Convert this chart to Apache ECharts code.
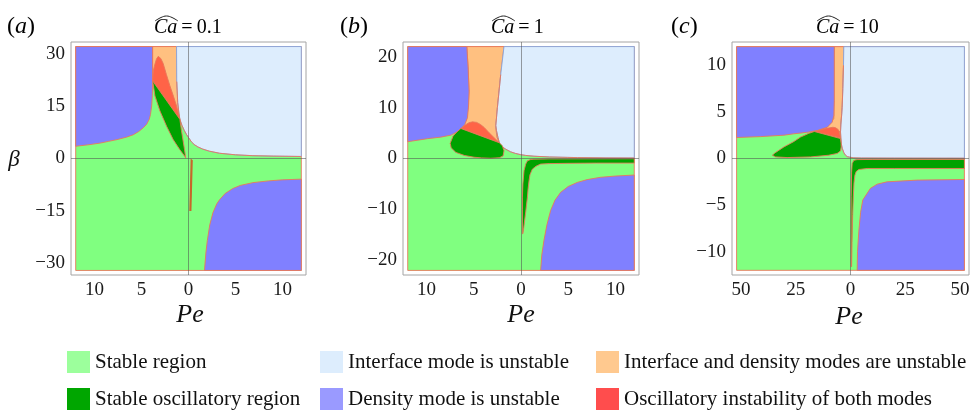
<!DOCTYPE html>
<html>
<head>
<meta charset="utf-8">
<script src="https://cdn.jsdelivr.net/npm/echarts@6/dist/echarts.min.js"></script>
<style>
  html, body { margin: 0; padding: 0; background: #fff; }
  #chart { width: 974px; height: 414px; }
</style>
</head>
<body>
<div id="chart"></div>
<script>
// Stability diagrams in the (Pe, beta) plane for three capillary numbers.
const SERIF = '"Liberation Serif", "Times New Roman", serif';

// ---------- axis ticks ----------
const ticksPeAB = [-10, -5, 0, 5, 10];
const ticksPeC = [-50, -25, 0, 25, 50];
const ticksBetaA = [-30, -15, 0, 15, 30];
const ticksBetaB = [-20, -10, 0, 10, 20];
const ticksBetaC = [-10, -5, 0, 5, 10];

// ---------- plotted domains ----------
const domainPeA = [-12, 12];
const domainBetaA = [-32, 32];
const domainPeB = [-12, 12];
const domainBetaB = [-22, 22];
const domainPeC = [-52, 52];
const domainBetaC = [-12, 12];

// ---------- region boundaries, panel (a): Ca = 0.1 ----------
const aBoth = [[-3.82, 32], [-1.27, 32], [-1.25, 24], [-1.15, 18], [-1.02, 14], [-0.92, 11.2], [-3.82, 22.2]];
const aDensityUpper = [[-12, 32], [-3.82, 32], [-3.82, 22], [-3.85, 18], [-3.92, 15], [-4.05, 12.5], [-4.18, 11.2],
  [-4.45, 9.8], [-4.8, 8.8], [-5.3, 7.7], [-5.87, 6.8], [-6.6, 6.1], [-7.6, 5.4], [-8.5, 4.9], [-9.4, 4.4],
  [-10.7, 3.9], [-12, 3.5]];
const aDensityLower = [[1.7, -32], [1.85, -27], [2.0, -23.5], [2.26, -19], [2.6, -15.5], [3.0, -13], [3.3, -11.8],
  [3.9, -10], [4.7, -8.6], [5.5, -7.7], [6.85, -6.9], [8.5, -6.4], [10, -6.1], [12, -5.9], [12, -32]];
const aInterface = [[-1.27, 32], [12, 32], [12, 0.58], [9, 0.68], [6.85, 0.8], [5, 1.05], [3.3, 1.5], [2.2, 2.1],
  [1.5, 2.7], [1, 3.3], [0.6, 4], [0.3, 4.8], [0, 6], [-0.2, 6.8], [-0.45, 8], [-0.7, 9.5], [-0.92, 11.2],
  [-1.02, 13], [-1.15, 16], [-1.25, 22]];
const aOscUnstable = [[-3.82, 22.2], [-3.75, 25], [-3.57, 27], [-3.4, 28.5], [-3.22, 29.2], [-2.95, 28.6],
  [-2.7, 27.2], [-2.35, 24], [-1.98, 20.8], [-1.6, 17.8], [-1.27, 15], [-0.92, 11.2]];
const aOscStable = [[-3.82, 22.2], [-0.92, 11.2], [-0.75, 8], [-0.57, 5], [-0.42, 2.5], [-0.29, 0.1], [-0.39, 0.6],
  [-0.92, 2.5], [-1.63, 5.4], [-2.33, 9.2], [-3.04, 13.6], [-3.57, 17.9]];
const aOscSliver = [[0.3, -0.4], [0.38, -0.6], [0.24, -14.8], [0.16, -14.8]];

// ---------- region boundaries, panel (b): Ca = 1 ----------
const bBoth = [[-5.74, 22], [-1.8, 22], [-2.15, 16.5], [-2.5, 10], [-2.67, 6.1], [-2.55, 4.2], [-2.3, 3.1],
  [-6.37, 5.9], [-5.8, 7.5], [-5.6, 10], [-5.5, 13.2], [-5.6, 17.8]];
const bDensityUpper = [[-12, 22], [-5.74, 22], [-5.6, 17.8], [-5.5, 13.2], [-5.55, 10.5], [-5.67, 8.0],
  [-5.95, 6.7], [-6.37, 5.8], [-6.8, 5.2], [-7.4, 4.6], [-8.5, 4.2], [-9.9, 3.9], [-12, 3.3]];
const bDensityLower = [[2.08, -22], [2.2, -19], [2.43, -16.1], [2.75, -13], [3.14, -10.2], [3.6, -8.2],
  [4.2, -6.65], [5, -5.5], [5.96, -4.7], [7, -4.15], [8.4, -3.7], [10, -3.45], [12, -3.25], [12, -22]];
const bInterface = [[-1.8, 22], [12, 22], [12, 0.1], [9, 0.12], [6, 0.18], [4.9, 0.22], [3, 0.3], [1.37, 0.45],
  [0.5, 0.6], [-0.03, 0.75], [-0.6, 1.0], [-1.09, 1.3], [-1.6, 1.8], [-2.15, 2.5], [-2.3, 3.1], [-2.45, 4.2],
  [-2.6, 5.5], [-2.67, 6.5], [-2.5, 10], [-2.15, 16.5]];
const bOscUnstable = [[-6.37, 5.9], [-5.9, 6.6], [-5.5, 7.05], [-5.14, 7.2], [-4.7, 7.1], [-4.3, 6.7], [-3.9, 6.1],
  [-3.4, 5.1], [-2.85, 4.1], [-2.3, 3.1]];
const bOscStable = [[-6.37, 5.9], [-2.3, 3.1], [-1.97, 2.5], [-1.8, 1.5], [-1.9, 0.5], [-2.3, 0.15], [-3.2, 0.05],
  [-4.2, 0.12], [-4.97, 0.25], [-6.0, 0.6], [-6.9, 1.2], [-7.4, 2.1], [-7.5, 3.0], [-7.2, 4.4], [-6.8, 5.2]];
const bOscStrip = [[0.15, -14.8], [0.15, -10], [0.15, -7.6], [0.2, -5], [0.32, -2.4], [0.5, -1.1], [0.68, -0.45],
  [1.0, -0.22], [1.37, -0.13], [3, -0.08], [12, -0.05], [12, -0.9], [8, -0.9], [4.9, -0.95], [3, -1.0],
  [2.08, -1.1], [1.6, -1.5], [1.2, -2.1], [0.95, -3.2], [0.85, -4.4], [0.75, -6], [0.68, -7.6], [0.5, -10.5],
  [0.3, -13.5], [0.2, -14.8]];

// ---------- region boundaries, panel (c): Ca = 10 ----------
const cBoth = [[-7.4, 12], [-3.05, 12], [-3.2, 10], [-3.5, 7.5], [-3.8, 5.5], [-4.2, 4.3], [-4.56, 3.4],
  [-4.56, 2.85], [-5.3, 2.9], [-6.8, 3.2], [-10.6, 3.2], [-15.2, 2.95], [-10.6, 3.4], [-7.6, 4.3]];
const cDensityUpper = [[-52, 12], [-7.4, 12], [-7.4, 8], [-7.4, 6.2], [-7.6, 4.6], [-8.35, 3.9], [-10.6, 3.35],
  [-15.2, 3.0], [-20, 2.8], [-25.9, 2.65], [-30.4, 2.5], [-41, 2.35], [-52, 2.25]];
const cDensityLower = [[3.04, -12], [3.2, -10], [3.8, -7.8], [4.6, -5.8], [5.6, -4.46], [9.1, -3.2],
  [12.2, -2.75], [16.7, -2.5], [30.4, -2.32], [52, -2.25], [52, -12]];
const cInterface = [[-3.05, 12], [52, 12], [52, 0.03], [20, 0.04], [5, 0.05], [1.5, 0.07], [0.77, 0.1],
  [-0.5, 0.15], [-1.5, 0.2], [-2.28, 0.35], [-3.0, 0.6], [-3.8, 1.1], [-4.2, 1.6], [-4.4, 2.2], [-4.56, 2.85],
  [-4.4, 3.6], [-4.0, 4.8], [-3.8, 5.5], [-3.5, 7.5], [-3.2, 10]];
const cOscUnstable = [[-16.5, 2.9], [-13, 3.1], [-10.6, 3.25], [-8, 3.35], [-6.8, 3.3], [-5.6, 3.1], [-5.0, 2.8],
  [-4.56, 2.2]];
const cOscStable = [[-16.5, 2.9], [-4.56, 2.14], [-4.3, 1.6], [-4.25, 1.24], [-4.6, 0.8], [-6.1, 0.54],
  [-10, 0.35], [-18.2, 0.17], [-28.9, 0.1], [-34.2, 0.17], [-35.7, 0.35], [-34.5, 0.6], [-30.4, 1.24],
  [-26, 1.8], [-22.8, 2.3], [-19, 2.7]];
const cOscStrip = [[0.3, -11.6], [0.3, -8], [0.3, -4.1], [0.5, -1.5], [0.77, -0.54], [1.5, -0.2], [3, -0.12],
  [10, -0.1], [52, -0.1], [52, -1.07], [20, -1.07], [7.6, -1.07], [3.8, -1.18], [2.6, -1.4], [2.0, -1.8],
  [1.6, -2.6], [1.3, -4], [1.0, -6], [0.7, -9], [0.5, -11.6]];

// ---------- legend names and colours ----------
const NAMES = {
  stable: 'Stable region',
  oscStable: 'Stable oscillatory region',
  iface: 'Interface mode is unstable',
  density: 'Density mode is unstable',
  both: 'Interface and density modes are unstable',
  oscUnstable: 'Oscillatory instability of both modes'
};
const FILL = {
  stable: '#80FF80', oscStable: '#00A200', iface: '#DDEDFD',
  density: '#8080FF', both: '#FFC080', oscUnstable: '#FF6347'
};
const SWATCH = {
  stable: '#9CFF9C', oscStable: '#00A600', iface: '#DDEDFD',
  density: '#9A9AFF', both: '#FFC98F', oscUnstable: '#FF4D4D'
};
const EDGE = '#E8785A';
const EDGE_BLUE = '#86A4DC';

function rect(pe, beta) {
  return [[pe[0], beta[0]], [pe[1], beta[0]], [pe[1], beta[1]], [pe[0], beta[1]]];
}

// region entries: [kind, boundary, outline colour, outline width, index where the lower (orange) outline starts]
const panels = [
  {
    padPe: 12.5, padBeta: 33.3, tx: ticksPeAB, ty: ticksBetaA,
    regions: [
      ['stable', rect(domainPeA, domainBetaA)],
      ['both', aBoth],
      ['density', aDensityUpper],
      ['density', aDensityLower],
      ['iface', aInterface, EDGE_BLUE, 0.9, 2],
      ['oscUnstable', aOscUnstable],
      ['oscStable', aOscStable],
      ['oscStable', aOscSliver, '#C8662A', 1.4]
    ]
  },
  {
    padPe: 12.5, padBeta: 22.9, tx: ticksPeAB, ty: ticksBetaB,
    regions: [
      ['stable', rect(domainPeB, domainBetaB)],
      ['both', bBoth],
      ['density', bDensityUpper],
      ['density', bDensityLower],
      ['iface', bInterface, EDGE_BLUE, 0.9, 2],
      ['oscUnstable', bOscUnstable],
      ['oscStable', bOscStable],
      ['oscStable', bOscStrip]
    ]
  },
  {
    padPe: 54.1, padBeta: 12.5, tx: ticksPeC, ty: ticksBetaC,
    regions: [
      ['stable', rect(domainPeC, domainBetaC)],
      ['both', cBoth],
      ['density', cDensityUpper],
      ['density', cDensityLower],
      ['iface', cInterface, EDGE_BLUE, 0.9, 2],
      ['oscUnstable', cOscUnstable],
      ['oscStable', cOscStable],
      ['oscStable', cOscStrip]
    ]
  }
];

const grids = [
  { left: 71, top: 42, width: 235, height: 233 },
  { left: 403, top: 42, width: 236, height: 233 },
  { left: 732, top: 42, width: 237, height: 233 }
].map(g => Object.assign(g, { show: true, borderColor: '#A4A4A4', borderWidth: 1, backgroundColor: 'transparent' }));

const labelStyle = { fontFamily: SERIF, fontSize: 19, color: '#1a1a1a' };
const minus = v => (v < 0 ? '\u2212' + Math.abs(v) : String(v));

const xAxes = panels.map((p, i) => ({
  type: 'value', gridIndex: i, min: -p.padPe, max: p.padPe,
  axisLine: { show: false }, splitLine: { show: false },
  axisTick: { show: true, inside: true, length: 4, lineStyle: { color: '#9a9a9a' }, customValues: p.tx },
  axisLabel: Object.assign({ customValues: p.tx, margin: 6, formatter: v => String(Math.abs(v)) }, labelStyle)
}));
const yAxes = panels.map((p, i) => ({
  type: 'value', gridIndex: i, min: -p.padBeta, max: p.padBeta,
  axisLine: { show: false }, splitLine: { show: false },
  axisTick: { show: true, inside: true, length: 4, lineStyle: { color: '#9a9a9a' }, customValues: p.ty },
  axisLabel: Object.assign({ customValues: p.ty, margin: 6, formatter: minus }, labelStyle)
}));

function polygonRenderer(pts, fill, edge, width, lowerFrom) {
  return function (params, api) {
    const px = pts.map(pt => api.coord(pt));
    const children = [{
      type: 'polygon',
      shape: { points: px },
      style: { fill: fill, stroke: edge, lineWidth: width }
    }];
    if (lowerFrom != null) {
      children.push({
        type: 'polyline',
        shape: { points: px.slice(lowerFrom) },
        style: { stroke: EDGE, lineWidth: 0.9, fill: null }
      });
    }
    return { type: 'group', children: children };
  };
}

const series = [];
panels.forEach((p, i) => {
  p.regions.forEach((r, k) => {
    const key = r[0];
    series.push({
      type: 'custom', name: NAMES[key], xAxisIndex: i, yAxisIndex: i,
      coordinateSystem: 'cartesian2d', silent: true, clip: true, z: 2 + k * 0.01,
      itemStyle: { color: FILL[key] },
      data: [0],
      renderItem: polygonRenderer(r[1], FILL[key], r[2] || EDGE, r[3] || 0.9, r[4])
    });
  });
  // coordinate axes Pe = 0 and beta = 0 drawn across the frame
  series.push({
    type: 'custom', xAxisIndex: i, yAxisIndex: i, coordinateSystem: 'cartesian2d', silent: true, z: 5,
    data: [0], renderItem: () => ({ type: 'group', children: [] }),
    markLine: {
      silent: true, symbol: 'none', label: { show: false }, animation: false,
      lineStyle: { color: 'rgba(80,80,80,0.55)', width: 1, type: 'solid' },
      data: [{ xAxis: 0 }, { yAxis: 0 }]
    }
  });
});

function legendBlock(left, keys) {
  return {
    left: left, top: 351, orient: 'vertical', padding: 0, itemGap: 15,
    itemWidth: 23, itemHeight: 22, icon: 'rect', selectedMode: false,
    textStyle: { fontFamily: SERIF, fontSize: 21, color: '#111' },
    data: keys.map(k => ({ name: NAMES[k], itemStyle: { color: SWATCH[k], borderWidth: 0 } }))
  };
}

const richText = {
  n: { fontFamily: SERIF, fontSize: 20, color: '#111' },
  i: { fontFamily: SERIF, fontSize: 20, fontStyle: 'italic', color: '#111' },
  pn: { fontFamily: SERIF, fontSize: 24, color: '#111' },
  pi: { fontFamily: SERIF, fontSize: 24, fontStyle: 'italic', color: '#111' }
};

function panelTag(x, letter) {
  return { type: 'text', x: x, y: 27, style: { text: '{pn|(}{pi|' + letter + '}{pn|)}', rich: richText, verticalAlign: 'middle' } };
}
function caTitle(x, value) {
  return [
    { type: 'text', x: x, y: 28, style: { text: '{i|Ca}{n|\u2009=\u2009' + value + '}', rich: richText, verticalAlign: 'middle' } },
    { type: 'polyline', shape: { points: [[x + 1, 21], [x + 7, 17.5], [x + 12.5, 16], [x + 18, 17.5], [x + 24, 21]], smooth: 0.4 },
      style: { stroke: '#222', lineWidth: 1, fill: null } }
  ];
}

const graphics = [
  panelTag(7, 'a'), panelTag(340, 'b'), panelTag(671, 'c'),
  ...caTitle(154, '0.1'), ...caTitle(491, '1'), ...caTitle(816, '10'),
  { type: 'text', x: 14, y: 160, style: { text: '\u03B2', font: 'italic 23px ' + SERIF, fill: '#111', align: 'center', verticalAlign: 'middle' } },
  { type: 'text', x: 190, y: 315, style: { text: 'Pe', font: 'italic 26px ' + SERIF, fill: '#111', align: 'center', verticalAlign: 'middle' } },
  { type: 'text', x: 521, y: 315, style: { text: 'Pe', font: 'italic 26px ' + SERIF, fill: '#111', align: 'center', verticalAlign: 'middle' } },
  { type: 'text', x: 849, y: 317, style: { text: 'Pe', font: 'italic 26px ' + SERIF, fill: '#111', align: 'center', verticalAlign: 'middle' } }
];

const chart = echarts.init(document.getElementById('chart'), null, { renderer: 'canvas' });
chart.setOption({
  animation: false,
  backgroundColor: '#ffffff',
  grid: grids,
  xAxis: xAxes,
  yAxis: yAxes,
  legend: [
    legendBlock(67, ['stable', 'oscStable']),
    legendBlock(320, ['iface', 'density']),
    legendBlock(596, ['both', 'oscUnstable'])
  ],
  graphic: graphics,
  series: series
});
</script>
</body>
</html>
